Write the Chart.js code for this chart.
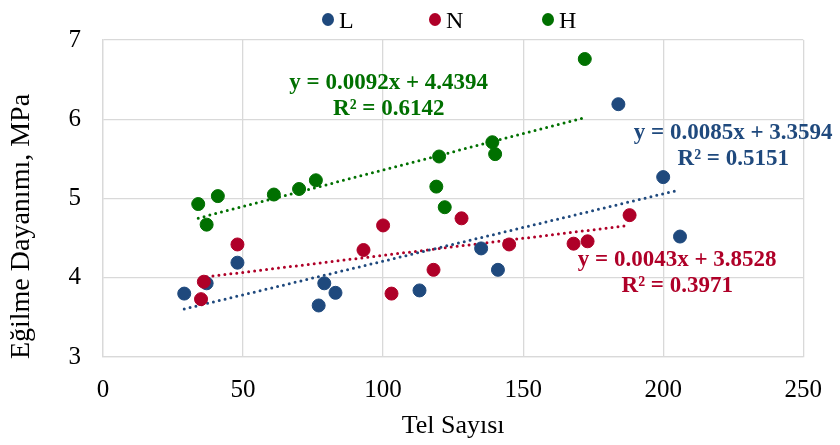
<!DOCTYPE html>
<html>
<head>
<meta charset="utf-8">
<script src="https://cdn.jsdelivr.net/npm/chart.js@4"></script>
<style>
  body { margin: 0; background: #fff; }
  #wrap { position: relative; width: 840px; height: 445px; }
  .leg { position: absolute; top: 6px; font: 24px "Liberation Serif", "Times New Roman", serif; color: #000; line-height: 28px; }
  .leg span { display: inline-block; width: 12px; height: 13px; border-radius: 50%; margin-right: 5px; vertical-align: 2px; }
</style>
</head>
<body>
<div id="wrap">
  <canvas id="line-chart" width="840" height="445"></canvas>
  <div class="leg" style="left:322px"><span style="background:#1F497D"></span>L</div>
  <div class="leg" style="left:429px"><span style="background:#AF0028"></span>N</div>
  <div class="leg" style="left:542px"><span style="background:#007000"></span>H</div>
</div>
<script>
// Tel Sayisi (x) and Egilme Dayanimi (y)
var xL = [29, 37, 48, 77, 79, 83, 113, 135, 141, 184, 200, 206];
var yL = [3.80, 3.93, 4.19, 3.65, 3.93, 3.81, 3.84, 4.37, 4.10, 6.19, 5.27, 4.52];
var xN = [36, 35, 48, 93, 100, 103, 118, 128, 145, 168, 173, 188];
var yN = [3.95, 3.73, 4.42, 4.35, 4.66, 3.80, 4.10, 4.75, 4.42, 4.43, 4.46, 4.79];
var xH = [34, 37, 41, 61, 70, 76, 120, 119, 122, 139, 140, 172];
var yH = [4.93, 4.67, 5.03, 5.05, 5.12, 5.23, 5.53, 5.15, 4.89, 5.71, 5.56, 6.76];

var seriesNames = ["L", "N", "H"];
var colors = ["#1F497D", "#AF0028", "#007000"];
var slopes = [0.0085, 0.0043, 0.0092];
var intercepts = [3.3594, 3.8528, 4.4394];
var r2 = ["0.5151", "0.3971", "0.6142"];
// where each equation label sits (data units, centre of text)
var labelX = [225, 205, 102];
var labelY = [5.82, 4.22, 6.46];

var xTicks = [0, 50, 100, 150, 200, 250];
var yTicks = [3, 4, 5, 6, 7];
var yTitle = "Eğilme Dayanımı, MPa";

function pts(xs, ys){
    var out = [];
    for(var i=0;i<xs.length;i++){ out.push({x: xs[i], y: ys[i]}); }
    return out;
}
function trend(k, xs){
    var lo = Math.min.apply(null, xs), hi = Math.max.apply(null, xs);
    return [{x: lo, y: slopes[k]*lo + intercepts[k]}, {x: hi, y: slopes[k]*hi + intercepts[k]}];
}

var allX = [xL, xN, xH], allY = [yL, yN, yH];
var datasets = [];
for(var k=0;k<3;k++){
    datasets.push({
        type: 'line',
        label: seriesNames[k] + " trend",
        data: trend(k, allX[k]),
        borderColor: colors[k],
        borderWidth: 3,
        borderDash: [0, 6],
        borderCapStyle: 'round',
        pointRadius: 0,
        fill: false,
        order: 5
    });
}
for(var k=0;k<3;k++){
    datasets.push({
        type: 'scatter',
        label: seriesNames[k],
        data: pts(allX[k], allY[k]),
        backgroundColor: colors[k],
        borderColor: colors[k],
        pointRadius: 6.5,
        order: 3 - k   // later series drawn on top, like excel
    });
}

var serif = '"Liberation Serif", "Times New Roman", serif';

var eqLabels = {
    id: 'eqLabels',
    afterDatasetsDraw: function(chart){
        var ctx = chart.ctx, xs = chart.scales.x, ys = chart.scales.y;
        ctx.save();
        ctx.font = 'bold 23px ' + serif;
        ctx.textAlign = 'center';
        ctx.textBaseline = 'middle';
        for(var k=0;k<3;k++){
            var px = xs.getPixelForValue(labelX[k]);
            var py = ys.getPixelForValue(labelY[k]);
            ctx.fillStyle = colors[k];
            ctx.fillText("y = " + slopes[k].toFixed(4) + "x + " + intercepts[k].toFixed(4), px, py);
            ctx.fillText("R\u00B2 = " + r2[k], px, py + 26);
        }
        // y axis title, sits a bit below the middle of the axis like the original
        ctx.translate(22, (chart.chartArea.top + chart.chartArea.bottom) / 2 + 28);
        ctx.rotate(-Math.PI / 2);
        ctx.font = '28px ' + serif;
        ctx.fillStyle = '#000';
        ctx.fillText(yTitle, 0, 0);
        ctx.restore();
    }
};

new Chart(document.getElementById("line-chart"), {
    type: 'scatter',
    data: { datasets: datasets },
    plugins: [eqLabels],
    options: {
        responsive: false,
        animation: false,
        layout: { padding: { top: 40, right: 36, left: 0, bottom: 0 } },
        plugins: { legend: { display: false }, tooltip: { enabled: false } },
        scales: {
            x: {
                min: 0, max: 250,
                afterBuildTicks: function(s){ s.ticks = xTicks.map(function(v){ return {value: v}; }); },
                afterFit: function(s){ s.height = 88; },
                grid: { color: '#d9d9d9', lineWidth: 1.3, drawTicks: false },
                border: { color: '#d9d9d9', width: 1.3 },
                ticks: { padding: 18, color: '#000', font: { family: serif, size: 25 } },
                title: { display: true, text: 'Tel Sayısı', color: '#000', font: { family: serif, size: 26 }, padding: { top: 0, bottom: 3 } }
            },
            y: {
                min: 3, max: 7,
                afterBuildTicks: function(s){ s.ticks = yTicks.map(function(v){ return {value: v}; }); },
                afterFit: function(s){ s.width = 103; },
                grid: { color: '#d9d9d9', lineWidth: 1.3, drawTicks: false },
                border: { color: '#d9d9d9', width: 1.3 },
                ticks: { padding: 22, color: '#000', font: { family: serif, size: 25 } },
                title: { display: false }
            }
        }
    }
});
</script>
</body>
</html>
